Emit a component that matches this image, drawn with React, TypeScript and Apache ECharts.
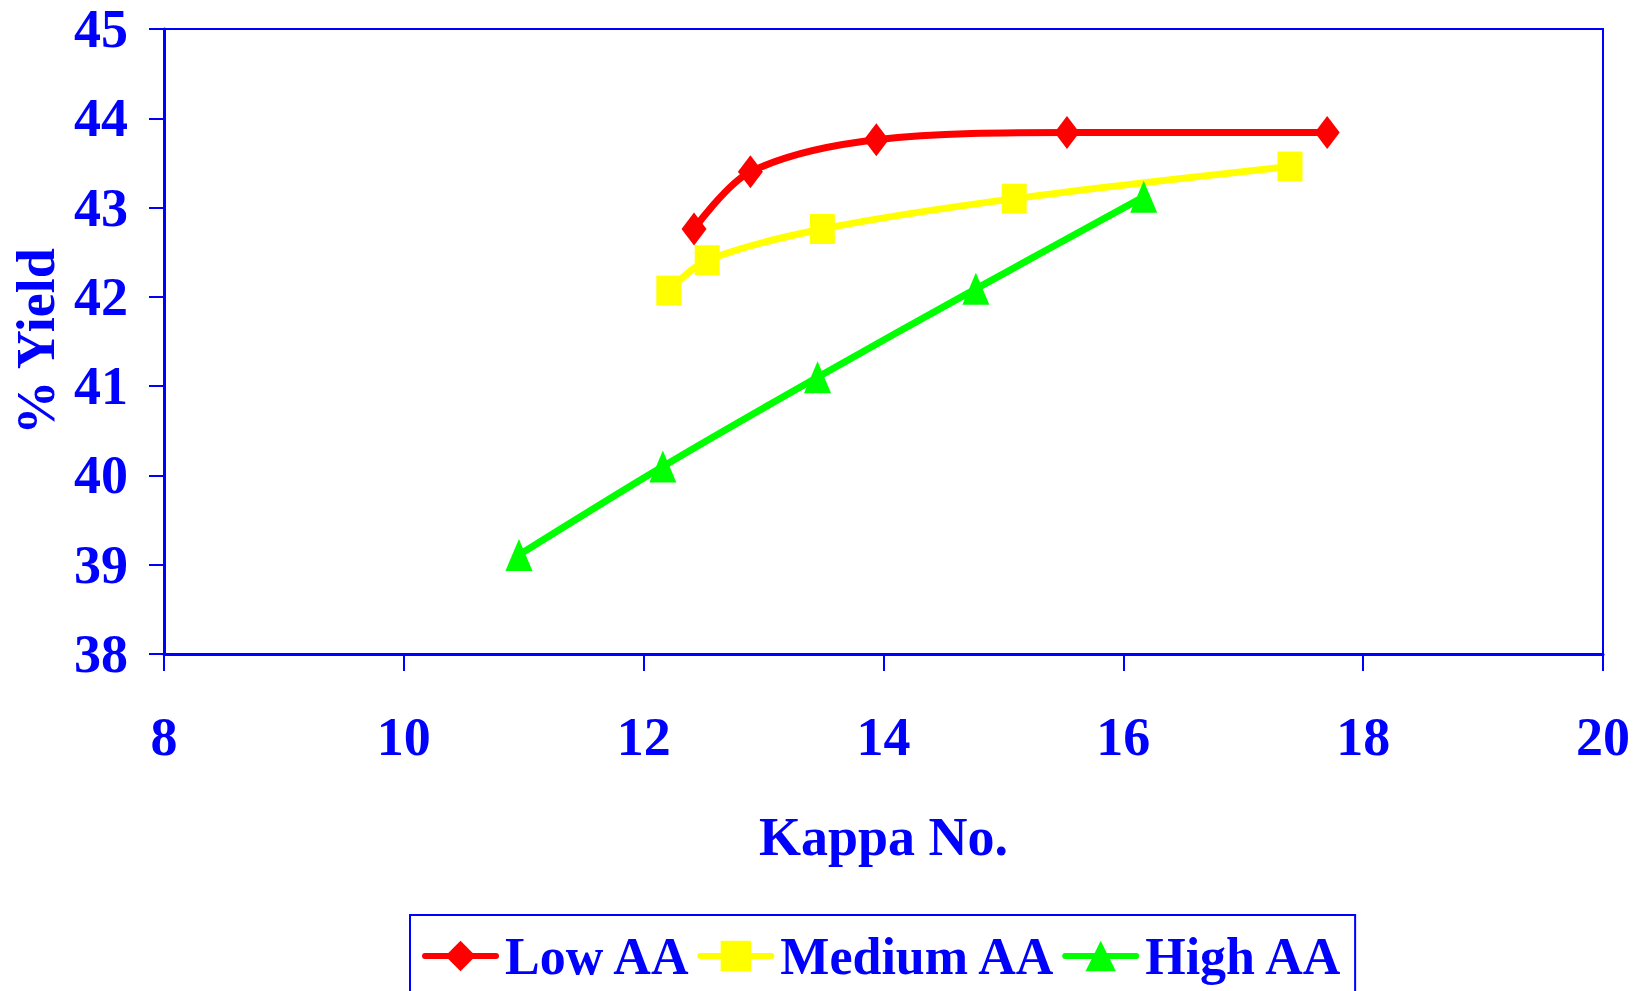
import React, { useEffect, useRef } from "react";
import * as echarts from "echarts";

const seriesNames = ["Low AA", "Medium AA", "High AA"];
const lowX = [12.42, 12.89, 13.94, 15.53, 17.7];
const lowY = [42.76, 43.4, 43.76, 43.84, 43.84];
const medX = [12.21, 12.53, 13.49, 15.09, 17.39];
const medY = [42.07, 42.41, 42.76, 43.1, 43.46];
const highX = [10.96, 12.16, 13.45, 14.77, 16.17];
const highY = [39.11, 40.1, 41.1, 42.09, 43.12];

const xTitle = "Kappa No.";
const yTitle = "% Yield";

export default function App() {
  const ref = useRef<HTMLDivElement>(null);
  useEffect(() => {
    if (!ref.current) return;
    const chart = echarts.init(ref.current, null, { renderer: "svg" });
    const font = "'Times New Roman', 'Liberation Serif', serif";
    const blue = "#0000FF";
    const pairs = (xs: number[], ys: number[]) => xs.map((x, i) => [x, ys[i]]);
    const txt = { color: blue, fontSize: 54, fontWeight: "bold" as const, fontFamily: font };
    const mkSeries = (name: string, xs: number[], ys: number[], color: string, symbol: string, size: number[]) => ({
      name,
      type: "line",
      data: pairs(xs, ys),
      smooth: 0.33,
      symbol,
      symbolSize: size,
      showAllSymbol: true,
      lineStyle: { color, width: 7, cap: "round", join: "round" },
      itemStyle: { color, borderWidth: 0 },
      emphasis: { disabled: true },
    });
    chart.setOption({
      animation: false,
      backgroundColor: "#ffffff",
      grid: {
        left: 164,
        top: 29,
        right: 38,
        bottom: 337,
        show: true,
        borderColor: blue,
        borderWidth: 2,
        backgroundColor: "transparent",
      },
      xAxis: {
        type: "value",
        min: 8,
        max: 20,
        interval: 2,
        name: xTitle,
        nameLocation: "middle",
        nameGap: 156,
        nameTextStyle: txt,
        axisLine: { onZero: false, lineStyle: { color: blue, width: 3 } },
        axisTick: { length: 17, lineStyle: { color: blue, width: 2 } },
        axisLabel: { margin: 56, ...txt },
        splitLine: { show: false },
      },
      yAxis: {
        type: "value",
        min: 38,
        max: 45,
        interval: 1,
        name: yTitle,
        nameLocation: "middle",
        nameGap: 96,
        nameTextStyle: txt,
        axisLine: { onZero: false, lineStyle: { color: blue, width: 3 } },
        axisTick: { length: 15, lineStyle: { color: blue, width: 2 } },
        axisLabel: { margin: 36, ...txt },
        splitLine: { show: false },
      },
      legend: {
        data: seriesNames,
        left: 410,
        top: 915,
        orient: "horizontal",
        padding: [15, 12, 46, 12],
        borderColor: blue,
        borderWidth: 2,
        itemWidth: 71,
        itemHeight: 38,
        itemGap: 6,
        lineStyle: { width: 6, cap: "round" },
        textStyle: { ...txt, fontSize: 52, padding: [0, 0, 0, 4] },
      },
      series: [
        mkSeries(seriesNames[0], lowX, lowY, "#FF0000", "diamond", [25, 33]),
        mkSeries(seriesNames[1], medX, medY, "#FFFF00", "rect", [25, 30]),
        mkSeries(seriesNames[2], highX, highY, "#00FF00", "triangle", [27, 32]),
      ],
    });
    return () => chart.dispose();
  }, []);
  return (
    <div
      ref={ref}
      style={{ position: "fixed", left: 0, top: 0, width: 1641, height: 991 }}
    />
  );
}
